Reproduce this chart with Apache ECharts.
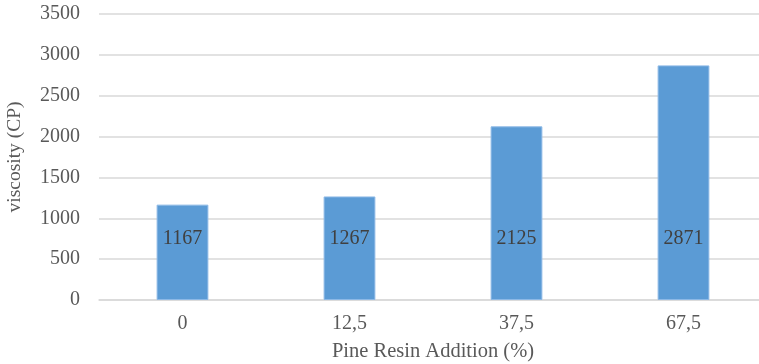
<!DOCTYPE html>
<html>
<head>
<meta charset="utf-8">
<script src="https://cdn.jsdelivr.net/npm/echarts@6/dist/echarts.min.js"></script>
<style>
  html, body { margin: 0; padding: 0; background: #fff; }
  #chart { width: 759px; height: 364px; }
</style>
</head>
<body>
<div id="chart"></div>
<script>
// Pine resin addition levels (%) and measured viscosity (cP)
const categories = ['0', '12,5', '37,5', '67,5'];
const viscosity = [1167, 1267, 2125, 2871];
const yTicks = { min: 0, max: 3500, interval: 500 };

const fontFamily = '"Liberation Serif", "Times New Roman", serif';

const chart = echarts.init(document.getElementById('chart'));
chart.setOption({
  animation: false,
  backgroundColor: '#ffffff',
  grid: {
    left: 99, top: 14, width: 668, height: 286,
    containLabel: false, outerBoundsMode: 'none'
  },
  xAxis: {
    type: 'category',
    data: categories,
    name: 'Pine Resin Addition (%)',
    nameLocation: 'middle',
    nameGap: 41,
    nameTextStyle: { fontFamily, fontSize: 20.5, color: '#595959' },
    axisLine: { show: true, lineStyle: { color: '#d9d9d9', width: 1.5 } },
    axisTick: { show: false },
    axisLabel: { fontFamily, fontSize: 20, color: '#595959', margin: 14 }
  },
  yAxis: {
    type: 'value',
    min: yTicks.min,
    max: yTicks.max,
    interval: yTicks.interval,
    name: 'viscosity (CP)',
    nameLocation: 'middle',
    nameGap: 74,
    nameTextStyle: { fontFamily, fontSize: 19.5, color: '#595959' },
    axisLine: { show: false },
    axisTick: { show: false },
    axisLabel: {
      fontFamily, fontSize: 20, color: '#595959', margin: 19,
      formatter: (v) => String(v)
    },
    splitLine: { lineStyle: { color: '#d9d9d9', width: 1.5 } }
  },
  series: [{
    type: 'bar',
    data: viscosity,
    barWidth: '31%',
    itemStyle: { color: '#5b9bd5', borderColor: '#8db9e6', borderWidth: 1 },
    label: {
      show: true,
      position: 'insideBottom',
      distance: 51,
      fontFamily,
      fontSize: 20,
      color: '#404040'
    }
  }]
});
</script>
</body>
</html>
